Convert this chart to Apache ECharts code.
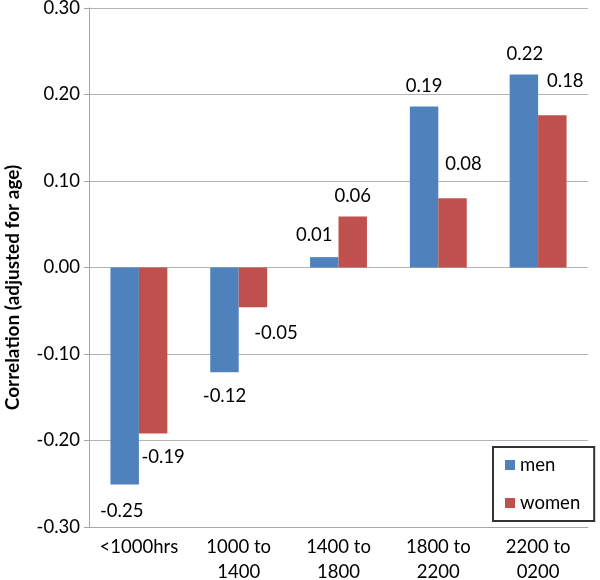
<!DOCTYPE html>
<html>
<head>
<meta charset="utf-8">
<script src="https://cdn.jsdelivr.net/npm/echarts@6/dist/echarts.min.js"></script>
<style>
html,body{margin:0;padding:0;background:#fff;}
#chart{width:600px;height:580px;}
</style>
</head>
<body>
<div id="chart"></div>
<script>
// ---- data ----
const categories = ['<1000hrs', '1000 to\n1400', '1400 to\n1800', '1800 to\n2200', '2200 to\n0200'];
const seriesNames = ['men', 'women'];
const menValues = [-0.251, -0.121, 0.012, 0.186, 0.223];
const womenValues = [-0.192, -0.046, 0.059, 0.080, 0.176];
const yTicks = [-0.30, -0.20, -0.10, 0.00, 0.10, 0.20, 0.30];

// ---- label placement (style only): [dx, distance] ----
const menNudge = [[-3, 17], [0, 14], [-10, 13], [0, 11], [1, 11]];
const womenNudge = [[10, 14], [23, 16], [0, 11], [11, 25], [13, 25]];

const FONT = 'Lato';
const FS = 18.5;

function buildData(values, nudge) {
  return values.map((v, i) => ({
    value: v,
    label: {
      position: v < 0 ? 'bottom' : 'top',
      distance: nudge[i][1],
      offset: [nudge[i][0], 0]
    }
  }));
}

const chart = echarts.init(document.getElementById('chart'));
chart.setOption({
  animation: false,
  backgroundColor: '#fff',
  textStyle: { fontFamily: FONT },
  grid: { left: 89, right: 12, top: 8, bottom: 53, containLabel: false, outerBoundsMode: 'none' },
  legend: {
    data: seriesNames,
    orient: 'vertical',
    left: 493,
    top: 447,
    padding: [8, 14, 8, 12],
    itemGap: 18,
    itemWidth: 10,
    itemHeight: 10,
    icon: 'rect',
    backgroundColor: '#fff',
    borderColor: '#333333',
    borderWidth: 2,
    borderRadius: 0,
    textStyle: { fontFamily: FONT, fontSize: FS, color: '#000', lineHeight: 20 }
  },
  xAxis: {
    type: 'category',
    data: categories,
    axisLine: { show: true, onZero: false, lineStyle: { color: '#a6a6a6', width: 1 } },
    axisTick: { show: false },
    axisLabel: { color: '#000', fontSize: FS, fontFamily: FONT, margin: 8, lineHeight: 25, interval: 0 },
    splitLine: { show: false }
  },
  yAxis: {
    type: 'value',
    min: yTicks[0],
    max: yTicks[yTicks.length - 1],
    interval: 0.1,
    name: 'Correlation (adjusted for age)',
    nameLocation: 'middle',
    nameGap: 67,
    nameTextStyle: { fontFamily: FONT, fontSize: 19, fontWeight: 'bold', color: '#000', padding: [0, 40, 0, 0] },
    axisLine: { show: true, lineStyle: { color: '#a6a6a6', width: 1 } },
    axisTick: { show: true, length: 5, lineStyle: { color: '#a6a6a6' } },
    axisLabel: {
      color: '#000', fontSize: FS, fontFamily: FONT, margin: 9,
      formatter: v => v.toFixed(2)
    },
    splitLine: { show: true, lineStyle: { color: '#b3b3b3', width: 1 } }
  },
  series: [
    {
      name: seriesNames[0],
      type: 'bar',
      data: buildData(menValues, menNudge),
      barGap: '0%',
      barCategoryGap: '43%',
      itemStyle: { color: '#4F81BD' },
      label: { show: true, color: '#000', fontSize: FS, fontFamily: FONT, formatter: p => p.value.toFixed(2) }
    },
    {
      name: seriesNames[1],
      type: 'bar',
      data: buildData(womenValues, womenNudge),
      barGap: '0%',
      barCategoryGap: '43%',
      itemStyle: { color: '#C0504D' },
      label: { show: true, color: '#000', fontSize: FS, fontFamily: FONT, formatter: p => p.value.toFixed(2) }
    }
  ]
});
</script>
</body>
</html>
